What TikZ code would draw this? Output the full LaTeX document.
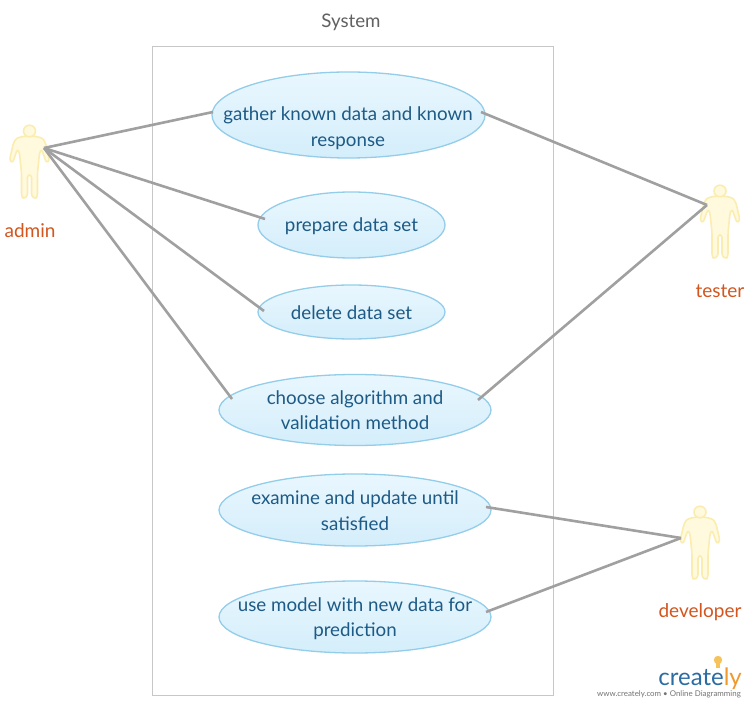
\documentclass[tikz,border=0pt]{standalone}
\usepackage{fontspec}
\setmainfont{Lato}
\usetikzlibrary{shapes.geometric}
\definecolor{usetext}{HTML}{1D5A85}
\definecolor{useedge}{HTML}{93CDEA}
\definecolor{usetop}{HTML}{E9F7FE}
\definecolor{usebot}{HTML}{D4EEFB}
\definecolor{actfill}{HTML}{FFF9DE}
\definecolor{actedge}{HTML}{FBEDB0}
\definecolor{actlab}{HTML}{D2561E}
\definecolor{conn}{HTML}{A0A0A0}
\definecolor{logoblue}{HTML}{2B6CA3}
\definecolor{logoorange}{HTML}{EE9A2E}
\definecolor{logobulb}{HTML}{F6C25C}
\tikzset{
  x=1pt,y=-1pt,
  usecase/.style={ellipse,draw=useedge,line width=1.3pt,top color=usetop,bottom color=usebot,inner sep=0pt},
  usetext/.style={inner sep=0pt,text=usetext,align=center,font=\fontsize{18.75}{25.5}\selectfont},
  actlabel/.style={text=actlab,font=\fontsize{19}{22}\selectfont,inner sep=0pt},
  link/.style={draw=conn,line width=2.6pt},
  actor/.pic={
    \draw[draw=actedge,fill=actfill,line width=1.6pt,line join=round,rounded corners=2.5pt]
      (-4,11) -- (-13,13) -- (-16,18) -- (-20,35) -- (-17,38) -- (-12,24) -- (-10,28) -- (-8,48)
      -- (-8,71) -- (-6,74) -- (-2,71) -- (-2,50) -- (2,50) -- (2,71) -- (6,74) -- (8,71) -- (8,48)
      -- (10,28) -- (12,24) -- (17,38) -- (20,35) -- (16,18) -- (13,13) -- (4,11) -- cycle;
    \draw[draw=actedge,fill=actfill,line width=1.6pt] (0,6) ellipse [x radius=6,y radius=5.8];
  }
}
\begin{document}
\begin{tikzpicture}
\useasboundingbox (0,0) rectangle (750,703);
\fill[white] (0,0) rectangle (750,703);
\node[draw=black!22,line width=0.9pt,minimum width=401pt,minimum height=649pt,inner sep=0pt] (sys) at (352.5,370.5) {};
\node[text=black!62,font=\fontsize{18.7}{22}\selectfont,inner sep=0pt] (systitle) at (351,22.5) {System};

\node[usecase,minimum width=273pt,minimum height=86pt] (gather) at (348.5,115) {};
\node[usecase,minimum width=187pt,minimum height=66pt] (prepare) at (351.5,225) {};
\node[usecase,minimum width=187pt,minimum height=54pt] (delete) at (351.5,312) {};
\node[usecase,minimum width=272pt,minimum height=71pt] (choose) at (355,410) {};
\node[usecase,minimum width=272pt,minimum height=72pt] (examine) at (355,510) {};
\node[usecase,minimum width=272pt,minimum height=72pt] (usemodel) at (355,617) {};
\node[usetext] (gathertext) at (348,128) {gather known data and known\\response};
\node[usetext] (preparetext) at (351.5,226.5) {prepare data set};
\node[usetext] (deletetext) at (351.5,313) {delete data set};
\node[usetext] (choosetext) at (355,410) {choose algorithm and\\validation method};
\node[usetext] (examinetext) at (355,510.5) {examine and update until\\satisfied};
\node[usetext] (usetextnode) at (355,618.5) {use model with new data for\\prediction};

\pic at (29.5,125) {actor};
\pic at (720,185) {actor};
\pic at (700,506) {actor};
\node[actlabel] (adminlab) at (30,230.5) {admin};
\node[actlabel] (testerlab) at (720,291) {tester};
\node[actlabel] (devlab) at (700,612) {developer};
\coordinate (admin) at (44,148);
\coordinate (tester) at (707,205);
\coordinate (developer) at (681,538);
\coordinate (gatherL) at (213,112);
\coordinate (gatherR) at (481,112);
\coordinate (prepareL) at (265,219);
\coordinate (deleteL) at (264,311);
\coordinate (chooseL) at (232,399);
\coordinate (chooseR) at (478,400);
\coordinate (examineR) at (486,507);
\coordinate (useR) at (486,612);

\draw[link] (admin) -- (gatherL);
\draw[link] (admin) -- (prepareL);
\draw[link] (admin) -- (deleteL);
\draw[link] (admin) -- (chooseL);
\draw[link] (tester) -- (gatherR);
\draw[link] (tester) -- (chooseR);
\draw[link] (developer) -- (examineR);
\draw[link] (developer) -- (useR);

\fill[logobulb] (718,660) circle [radius=4.2];
\fill[logobulb] (716,663) rectangle (720,668);
\node[anchor=base east,inner sep=0pt,font=\fontsize{24}{24}\selectfont] (logo) at (742,685)
  {\textcolor{logoblue}{create}\textcolor{logoorange}{ly}};
\node[anchor=base east,inner sep=0pt,text=black!55,font=\fontsize{7.9}{8}\selectfont] (logotag) at (741,696)
  {www.creately.com • Online Diagramming};
\end{tikzpicture}
\end{document}
